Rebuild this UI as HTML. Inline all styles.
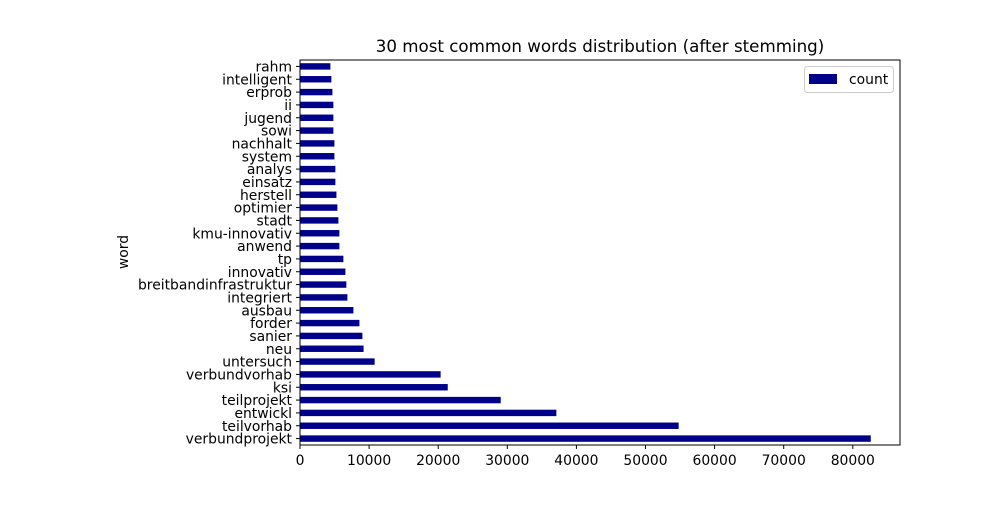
<!DOCTYPE html>
<html><head><meta charset="utf-8"><style>
body{margin:0;background:#fff;}
svg text{font-family:"DejaVu Sans","Liberation Sans",sans-serif;fill:#000;}
</style></head><body>
<svg id="chart" width="1000" height="500" xmlns="http://www.w3.org/2000/svg">
<rect width="1000" height="500" fill="#fff"/>
<text x="600" y="52" font-size="16.7" text-anchor="middle">30 most common words distribution (after stemming)</text>
<g id="bars"></g><g id="yticks"></g><g id="xticks"></g>
<rect x="300" y="60" width="600" height="385" fill="none" stroke="#000" stroke-width="1"/>
<text transform="translate(128,252) rotate(-90)" font-size="13.9" text-anchor="middle">word</text>
<g>
<rect x="804.5" y="66.5" width="89" height="26" rx="3" fill="#fff" stroke="#ccc"/>
<rect x="809" y="74" width="28" height="10" fill="#00008b"/>
<text x="849" y="84" font-size="13.9">count</text>
</g>
</svg>
<script>
const words=["verbundprojekt","teilvorhab","entwickl","teilprojekt","ksi","verbundvorhab","untersuch","neu","sanier","forder","ausbau","integriert","breitbandinfrastruktur","innovativ","tp","anwend","kmu-innovativ","stadt","optimier","herstell","einsatz","analys","system","nachhalt","sowi","jugend","ii","erprob","intelligent","rahm"];
const counts=[82600,54800,37100,29050,21380,20350,10800,9200,9030,8600,7730,6860,6710,6570,6280,5700,5700,5560,5410,5270,5120,5120,4980,4980,4830,4830,4830,4690,4540,4400];
const xTicks=[0,10000,20000,30000,40000,50000,60000,70000,80000];
const NS="http://www.w3.org/2000/svg";
const X0=300,PXPER=69.1/10000,TOP=60,BOT=445;
const n=words.length,step=(BOT-TOP)/n;
const xs=v=>X0+v*PXPER;
const yc=i=>BOT-step*(i+0.5);
const bars=document.getElementById('bars'),yt=document.getElementById('yticks'),xt=document.getElementById('xticks');
words.forEach((w,i)=>{
 const r=document.createElementNS(NS,'rect');
 r.setAttribute('x',X0);r.setAttribute('y',yc(i)-step/4);
 r.setAttribute('width',xs(counts[i])-X0);r.setAttribute('height',step/2);
 r.setAttribute('fill','#00008b');
 
 
 bars.appendChild(r);
 const l=document.createElementNS(NS,'line');
 l.setAttribute('x1',X0-4);l.setAttribute('x2',X0);l.setAttribute('y1',yc(i));l.setAttribute('y2',yc(i));l.setAttribute('stroke','#000');
 
 
 yt.appendChild(l);
 const t=document.createElementNS(NS,'text');
 t.setAttribute('x',X0-8);t.setAttribute('y',yc(i)+5);t.setAttribute('font-size','13.9');t.setAttribute('text-anchor','end');
 t.textContent=w;
 
 
 yt.appendChild(t);
});
xTicks.forEach(v=>{
 const l=document.createElementNS(NS,'line');
 l.setAttribute('x1',xs(v));l.setAttribute('x2',xs(v));l.setAttribute('y1',BOT);l.setAttribute('y2',BOT+4);l.setAttribute('stroke','#000');
 
 
 xt.appendChild(l);
 const t=document.createElementNS(NS,'text');
 t.setAttribute('x',xs(v));t.setAttribute('y',BOT+20);t.setAttribute('font-size','13.9');t.setAttribute('text-anchor','middle');
 t.textContent=String(v);
 
 
 xt.appendChild(t);
});
</script>
</body></html>
